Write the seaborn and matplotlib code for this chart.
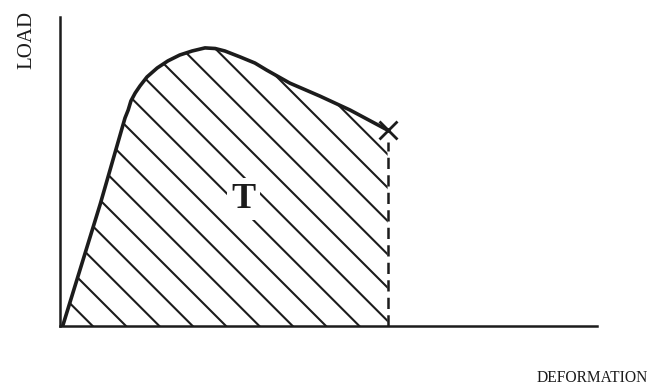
import pandas as pd
import matplotlib
matplotlib.use("Agg")
import matplotlib.pyplot as plt
import seaborn as sns

# load-deformation curve (axis units 0-100)
deformation = [0.5, 7.5, 12.1, 12.7, 13.2, 14.0, 14.9, 16.2, 18.1, 20.1,
               22.3, 24.6, 27.0, 28.9, 30.7, 33.5, 36.3, 38.5, 42.8, 48.4,
               54.0, 61.0]
load = [0.0, 39.5, 67.3, 69.9, 72.8, 75.4, 77.7, 80.6, 83.5, 85.8,
        87.7, 89.0, 90.0, 89.8, 89.0, 87.1, 85.1, 82.8, 78.6, 74.4,
        69.9, 63.4]

fracture_x = 61.0
fracture_y = 63.4
dash_top = 59.5
label_T = "T"
label_T_pos = (34.1, 41.0)

df = pd.DataFrame({"Deformation": deformation, "Load": load})

sns.set_style("white")
plt.rcParams["font.family"] = ["Liberation Serif", "DejaVu Serif"]
plt.rcParams["hatch.linewidth"] = 1.5
plt.rcParams["hatch.color"] = "#1c1c1c"

ink = "#1c1c1c"

fig = plt.figure(figsize=(6.52, 3.85), dpi=100)
ax = fig.add_axes([60 / 652, 59 / 385, 537 / 652, 309 / 385])

# hatched area under the curve (toughness)
ax.fill_between(df["Deformation"], 0, df["Load"], facecolor="none",
                edgecolor=ink, hatch="\\", linewidth=0)

sns.lineplot(data=df, x="Deformation", y="Load", ax=ax, color=ink,
             linewidth=2.6, sort=False)

# fracture point and dashed drop line
ax.plot([fracture_x], [fracture_y], marker="x", color=ink, markersize=13,
        markeredgewidth=2.0)
ax.plot([fracture_x, fracture_x], [0, dash_top], color=ink, linewidth=1.8,
        linestyle=(0, (4.5, 2.5)))

ax.text(label_T_pos[0], label_T_pos[1], label_T, fontsize=26, fontweight="bold",
        ha="center", va="center", color=ink,
        bbox=dict(facecolor="white", edgecolor="none", pad=3))

ax.set_xlim(0, 100)
ax.set_ylim(0, 100)
ax.set_xticks([])
ax.set_yticks([])
ax.set_xlabel("")
ax.set_ylabel("")
sns.despine(ax=ax)
for side in ["left", "bottom"]:
    ax.spines[side].set_linewidth(1.8)
    ax.spines[side].set_color(ink)

fig.text(27 / 652, 1 - 40 / 385, "LOAD", rotation=90, fontsize=15,
         ha="center", va="center", color=ink)
fig.text(537 / 652, 1 - 378 / 385, "DEFORMATION", fontsize=11.2,
         ha="left", va="center", color=ink)

fig.savefig("out.png", dpi=100, facecolor="white")
